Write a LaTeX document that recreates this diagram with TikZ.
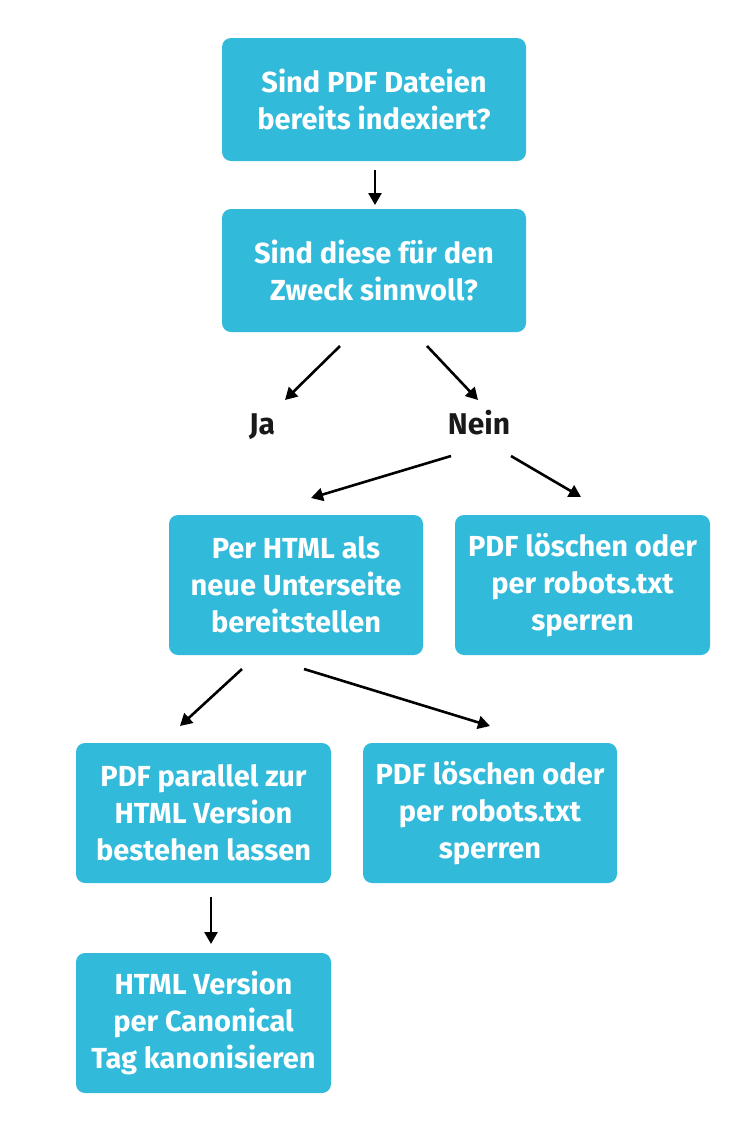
\documentclass[tikz,border=0pt]{standalone}
\usepackage{fontspec}
\setmainfont{Fira Sans}
\usetikzlibrary{arrows.meta}
\definecolor{boxblue}{RGB}{50,186,218}
\definecolor{txtblack}{RGB}{25,25,25}
\tikzset{
  x=1pt,y=-1pt,
  box/.style={fill=boxblue, rounded corners=9pt, text=white, font=\fontsize{29}{37}\selectfont\bfseries, align=center, inner sep=0pt},
  lbl/.style={text=txtblack, font=\fontsize{30}{34}\selectfont\bfseries, inner sep=0pt, anchor=base},
  arr/.style={line width=2.6pt, draw=black, -{Triangle[length=12pt,width=13pt]}}
}
\begin{document}
\begin{tikzpicture}
\useasboundingbox (0,0) rectangle (750,1125);
\node[box, minimum width=304pt, minimum height=123pt] (q1) at (374,99.5) {Sind PDF Dateien\\bereits indexiert?};
\node[box, minimum width=304pt, minimum height=123pt] (q2) at (374,270.5) {Sind diese für den\\Zweck sinnvoll?};
\node[lbl] (ja) at (262,434) {Ja};
\node[lbl] (nein) at (479,434) {Nein};
\node[box, minimum width=254pt, minimum height=140pt] (html) at (296,585) {Per HTML als\\neue Unterseite\\bereitstellen};
\node[box, minimum width=255pt, minimum height=140pt] (del1) at (582.5,585) {PDF löschen oder\\per robots.txt\\sperren};
\node[box, minimum width=255pt, minimum height=140pt] (par) at (203.5,813) {PDF parallel zur\\HTML Version\\bestehen lassen};
\node[box, minimum width=254pt, minimum height=140pt] (del2) at (490,813) {PDF löschen oder\\per robots.txt\\sperren};
\node[box, minimum width=255pt, minimum height=140pt] (can) at (203.5,1023) {HTML Version\\per Canonical\\Tag kanonisieren};
% connector end points
\coordinate (a1s) at (375,170);  \coordinate (a1e) at (375,205);
\coordinate (a2s) at (340,346);  \coordinate (a2e) at (285,400);
\coordinate (a3s) at (427,346);  \coordinate (a3e) at (478,400);
\coordinate (a4s) at (451,456);  \coordinate (a4e) at (311,498);
\coordinate (a5s) at (511,456);  \coordinate (a5e) at (581,497);
\coordinate (a6s) at (242,669);  \coordinate (a6e) at (180,726);
\coordinate (a7s) at (304,669);  \coordinate (a7e) at (490,726);
\coordinate (a8s) at (211,897);  \coordinate (a8e) at (211,944);
\draw[arr] (a1s) -- (a1e);
\draw[arr] (a2s) -- (a2e);
\draw[arr] (a3s) -- (a3e);
\draw[arr] (a4s) -- (a4e);
\draw[arr] (a5s) -- (a5e);
\draw[arr] (a6s) -- (a6e);
\draw[arr] (a7s) -- (a7e);
\draw[arr] (a8s) -- (a8e);
\end{tikzpicture}
\end{document}
